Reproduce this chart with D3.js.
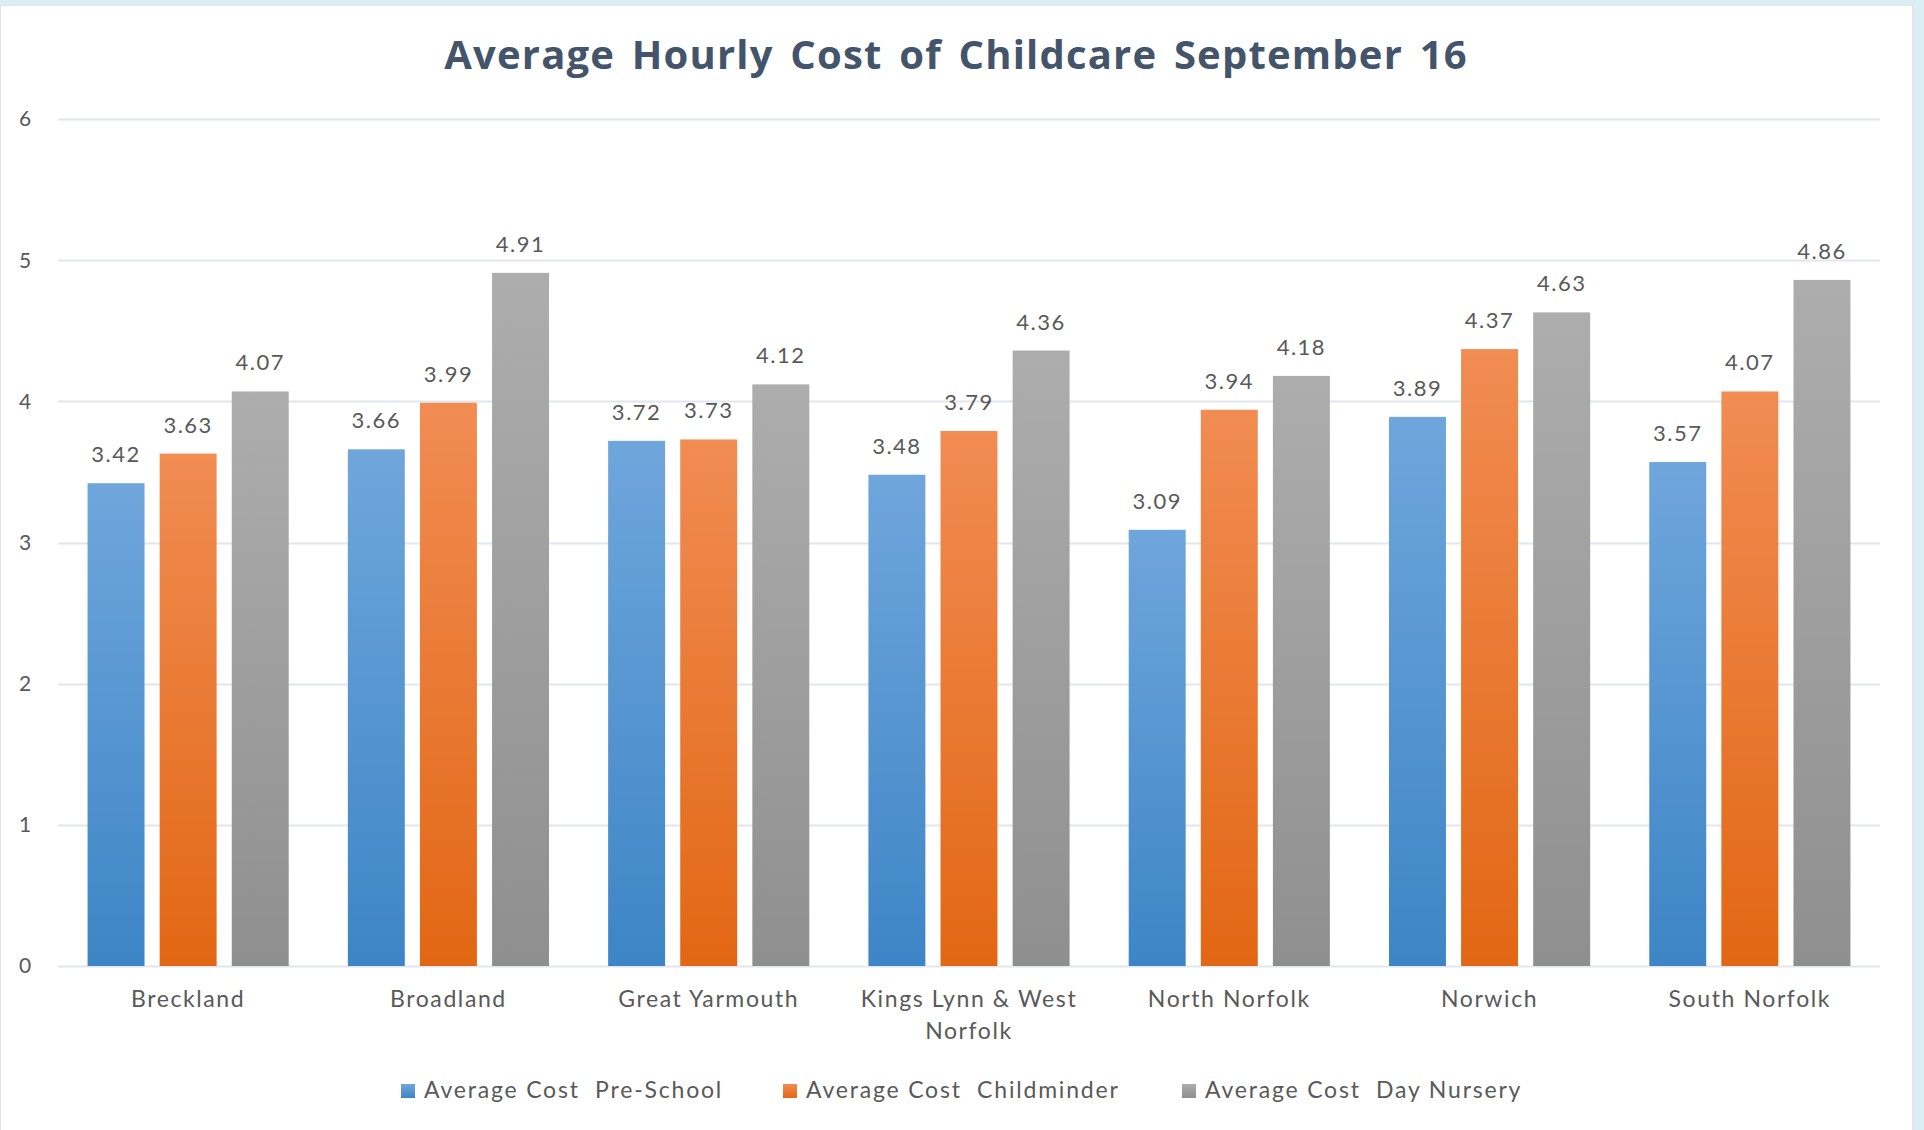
<!DOCTYPE html>
<html>
<head>
<meta charset="utf-8">
<script src="https://cdn.jsdelivr.net/npm/d3@7"></script>
<style>
  body { margin: 0; background: #daeef3; }
  text { font-family: Lato, "Open Sans", sans-serif; }
</style>
</head>
<body>
<div id="chart"></div>
<script>
var areas = ["Breckland", "Broadland", "Great Yarmouth", "Kings Lynn & West Norfolk",
             "North Norfolk", "Norwich", "South Norfolk"];
var preSchool   = [3.42, 3.66, 3.72, 3.48, 3.09, 3.89, 3.57];
var childminder = [3.63, 3.99, 3.73, 3.79, 3.94, 4.37, 4.07];
var dayNursery  = [4.07, 4.91, 4.12, 4.36, 4.18, 4.63, 4.86];
var seriesNames = ["Average Cost  Pre-School", "Average Cost  Childminder", "Average Cost  Day Nursery"];
var yTicks = [0, 1, 2, 3, 4, 5, 6];

var series = [preSchool, childminder, dayNursery];
var colours = [
  {top: "#6fa6dc", bottom: "#3d85c6"},
  {top: "#f18c53", bottom: "#e26714"},
  {top: "#adadad", bottom: "#8f8f8f"}
];

var W = 1924, H = 1130;
var margin = {top: 119, right: 44, bottom: 164, left: 58};
var width = W - margin.left - margin.right,
    height = H - margin.top - margin.bottom;

var svg = d3.select("#chart")
  .append("svg")
  .attr("width", W)
  .attr("height", H)
  .style("display", "block");

// frame
svg.append("rect").attr("x", 0).attr("y", 0).attr("width", W).attr("height", H).attr("fill", "#daeef3");
svg.append("rect").attr("x", 0.5).attr("y", 5.5).attr("width", 1912).attr("height", H)
  .attr("fill", "#fff").attr("stroke", "#e2e4e8");

var defs = svg.append("defs");
colours.forEach(function(c, i) {
  var lg = defs.append("linearGradient").attr("id", "grad" + i)
    .attr("x1", 0).attr("y1", 0).attr("x2", 0).attr("y2", 1);
  lg.append("stop").attr("offset", "0%").attr("stop-color", c.top);
  lg.append("stop").attr("offset", "100%").attr("stop-color", c.bottom);
});

svg.append("text")
  .attr("x", 956)
  .attr("y", 69)
  .attr("text-anchor", "middle")
  .style("font-family", "'Open Sans', sans-serif")
  .style("font-weight", "bold")
  .style("font-size", "40px")
  .style("letter-spacing", "1.2px")
  .style("word-spacing", "5px")
  .style("fill", "#44546a")
  .text("Average Hourly Cost of Childcare September 16");

var g = svg.append("g").attr("transform", "translate(" + margin.left + "," + margin.top + ")");

var x0 = d3.scaleBand().domain(areas).range([0, width]).padding(0);
var x1 = d3.scaleBand().domain([0, 1, 2]).range([0, x0.bandwidth()])
  .paddingInner(0.21).paddingOuter(0.41);
var y = d3.scaleLinear().domain([0, 6]).range([height, 0]);

// gridlines
g.append("g").selectAll("line")
  .data(yTicks)
  .enter().append("line")
  .attr("x1", 0).attr("x2", width)
  .attr("y1", function(d) { return Math.round(y(d)) + 0.5; })
  .attr("y2", function(d) { return Math.round(y(d)) + 0.5; })
  .attr("stroke", "#e1e5ec")
  .attr("stroke-width", 2);

// y tick labels
g.append("g").selectAll("text")
  .data(yTicks)
  .enter().append("text")
  .attr("x", -33)
  .attr("y", function(d) { return y(d); })
  .attr("dy", "0.35em")
  .attr("text-anchor", "middle")
  .style("font-size", "21px")
  .style("fill", "#595959")
  .text(function(d) { return d; });

var groups = g.selectAll(".grp")
  .data(areas)
  .enter().append("g")
  .attr("class", "grp")
  .attr("transform", function(d) { return "translate(" + x0(d) + ",0)"; });

groups.selectAll("rect")
  .data(function(d, i) { return series.map(function(s, k) { return {k: k, v: s[i]}; }); })
  .enter().append("rect")
  .attr("x", function(d) { return x1(d.k); })
  .attr("width", x1.bandwidth())
  .attr("y", function(d) { return y(d.v); })
  .attr("height", function(d) { return height - y(d.v); })
  .attr("fill", function(d) { return "url(#grad" + d.k + ")"; });

groups.selectAll(".val")
  .data(function(d, i) { return series.map(function(s, k) { return {k: k, v: s[i]}; }); })
  .enter().append("text")
  .attr("class", "val")
  .attr("x", function(d) { return x1(d.k) + x1.bandwidth() / 2; })
  .attr("y", function(d) { return y(d.v) - 21; })
  .attr("text-anchor", "middle")
  .style("font-size", "22px")
  .style("letter-spacing", "1.5px")
  .style("fill", "#595959")
  .text(function(d) { return d.v.toFixed(2); });

// category labels
groups.append("text")
  .attr("x", x0.bandwidth() / 2)
  .attr("y", height + 41)
  .attr("text-anchor", "middle")
  .style("font-size", "23px")
  .style("letter-spacing", "1.6px")
  .style("fill", "#595959")
  .each(function(d) {
    var t = d3.select(this);
    var lines = d === "Kings Lynn & West Norfolk" ? ["Kings Lynn & West", "Norfolk"] : [d];
    lines.forEach(function(l, i) {
      t.append("tspan").attr("x", x0.bandwidth() / 2).attr("dy", i ? 32 : 0).text(l);
    });
  });

// legend
var legendX = [401, 783, 1182];
var legend = svg.append("g").selectAll("g")
  .data(seriesNames)
  .enter().append("g")
  .attr("transform", function(d, i) { return "translate(" + legendX[i] + ",1090)"; });
legend.append("rect")
  .attr("x", 0).attr("y", -6).attr("width", 14).attr("height", 14)
  .attr("fill", function(d, i) { return "url(#grad" + i + ")"; });
legend.append("text")
  .attr("x", 23)
  .attr("dy", "0.35em")
  .style("font-size", "23px")
  .style("letter-spacing", "1.8px")
  .style("fill", "#595959")
  .style("white-space", "pre")
  .text(function(d) { return d; });
</script>
</body>
</html>
